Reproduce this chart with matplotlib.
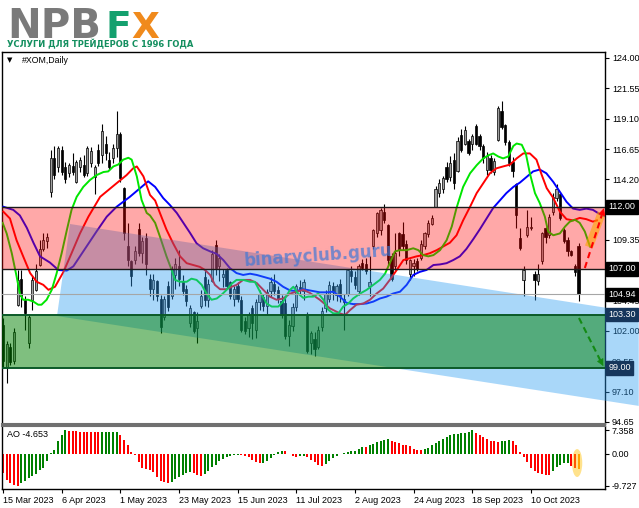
import matplotlib
matplotlib.use("Agg")
import matplotlib.pyplot as plt
from matplotlib.patches import Ellipse
from matplotlib.transforms import blended_transform_factory

plt.rcParams['font.family'] = ['Liberation Sans', 'DejaVu Sans']

# ---- data ----
date_labels = ['15 Mar 2023', '6 Apr 2023', '1 May 2023', '23 May 2023', '15 Jun 2023',
               '11 Jul 2023', '2 Aug 2023', '24 Aug 2023', '18 Sep 2023', '10 Oct 2023']
date_pos = [0, 16, 32, 48, 64, 80, 96, 112, 128, 144]

opens = [102.5, 99.1, 100.7, 99.6, 104.1, 106.2, 104.5, 101.0, 104.5, 105.3,
         107.3, 108.6, 109.2, 113.2, 115.9, 115.2, 116.6, 115.2, 114.7, 115.3,
         114.0, 115.2, 115.4, 114.7, 115.5, 114.4, 116.6, 116.2, 117.1, 115.8,
         115.9, 116.7, 117.9, 113.5, 108.8, 107.6, 107.7, 110.2, 108.3, 109.5,
         106.2, 105.4, 106.0, 104.6, 103.1, 105.6, 104.8, 106.5, 107.2, 106.0,
         105.4, 102.6, 103.5, 102.2, 104.0, 106.3, 104.5, 106.0, 108.9, 107.2,
         106.3, 106.9, 105.9, 104.6, 105.6, 104.5, 102.8, 102.2, 103.8, 102.1,
         104.3, 104.7, 104.0, 105.2, 105.8, 105.3, 104.4, 104.2, 101.6, 102.4,
         103.9, 105.5, 105.2, 103.3, 101.0, 101.3, 100.7, 102.3, 103.8, 104.6,
         105.6, 104.9, 105.8, 104.6, 105.0, 106.8, 106.3, 105.2, 107.5, 107.4,
         105.6, 108.8, 109.9, 110.1, 111.6, 110.5, 108.0, 107.2, 109.9, 109.8,
         109.0, 106.6, 107.2, 107.6, 107.9, 108.8, 109.8, 110.6, 112.0, 113.1,
         113.4, 115.2, 114.4, 115.8, 114.9, 117.8, 117.1, 117.3, 117.1, 118.5,
         117.7, 116.9, 115.0, 115.9, 114.8, 117.4, 119.7, 118.6, 117.2, 115.6,
         113.8, 109.5, 106.1, 109.7, 110.3, 106.6, 106.0, 107.6, 110.3, 109.7,
         111.6, 112.7, 113.0, 110.1, 109.3, 108.4, 107.2, 108.8]
highs = [103.0, 101.2, 101.0, 102.2, 106.9, 106.9, 104.8, 103.3, 106.4, 107.4,
         109.3, 109.9, 109.9, 116.6, 116.9, 116.9, 116.9, 115.6, 115.5, 116.3,
         115.8, 116.0, 116.2, 116.9, 116.8, 115.4, 117.1, 118.7, 117.7, 116.4,
         117.1, 119.7, 118.0, 113.6, 110.7, 107.7, 108.8, 110.7, 109.6, 109.9,
         106.6, 106.6, 106.1, 104.9, 104.8, 106.0, 107.2, 107.9, 108.5, 106.5,
         105.7, 104.1, 103.6, 103.5, 105.3, 106.9, 106.2, 108.5, 109.3, 108.2,
         107.0, 107.1, 106.0, 105.6, 105.9, 104.8, 103.1, 103.5, 104.1, 104.6,
         105.3, 105.0, 105.4, 106.3, 106.6, 105.6, 104.9, 104.8, 102.9, 104.2,
         105.8, 106.1, 106.2, 103.5, 102.0, 101.9, 102.4, 103.9, 105.3, 106.0,
         105.9, 105.8, 106.2, 105.0, 107.0, 107.2, 106.8, 107.4, 107.8, 107.9,
         108.0, 110.2, 111.6, 111.9, 112.2, 110.6, 108.3, 109.9, 110.0, 110.8,
         109.3, 107.8, 107.8, 107.9, 109.3, 110.0, 110.9, 111.3, 113.7, 114.2,
         114.5, 115.6, 116.1, 116.3, 117.6, 118.3, 118.5, 117.5, 117.9, 118.7,
         117.9, 117.1, 116.4, 116.2, 115.9, 120.1, 120.5, 118.7, 117.4, 116.0,
         113.9, 110.3, 107.2, 111.7, 111.2, 106.8, 107.4, 110.0, 110.4, 111.4,
         113.1, 113.8, 113.2, 110.3, 109.6, 108.5, 107.4, 109.1]
lows = [99.0, 97.8, 99.2, 99.3, 104.0, 103.9, 102.1, 100.6, 103.7, 105.2,
        107.2, 108.4, 108.7, 112.8, 114.2, 114.8, 114.6, 113.9, 114.4, 114.6,
        113.9, 114.8, 114.4, 114.5, 115.2, 113.0, 115.3, 115.5, 115.8, 115.0,
        115.5, 116.0, 114.0, 109.3, 107.2, 105.6, 107.4, 108.0, 107.5, 106.5,
        104.8, 104.5, 104.4, 101.8, 102.9, 103.6, 104.6, 105.4, 105.6, 104.9,
        104.0, 102.3, 101.8, 101.0, 103.8, 104.0, 103.9, 105.9, 106.5, 106.0,
        105.5, 105.4, 104.6, 104.0, 104.3, 101.9, 101.7, 101.5, 101.3, 101.4,
        103.7, 103.6, 103.3, 104.7, 104.9, 104.2, 103.0, 101.3, 100.8, 102.0,
        103.6, 104.9, 104.5, 100.2, 100.1, 100.0, 100.5, 102.0, 103.5, 104.3,
        104.5, 104.4, 104.3, 102.1, 104.8, 105.9, 105.4, 104.9, 106.9, 106.6,
        104.8, 108.6, 109.6, 109.7, 110.7, 107.2, 106.0, 106.9, 108.0, 108.5,
        107.4, 106.1, 106.4, 106.8, 107.7, 108.6, 109.6, 110.5, 112.0, 112.8,
        113.1, 114.0, 114.1, 113.4, 114.8, 116.4, 117.0, 116.2, 116.6, 117.0,
        116.6, 115.5, 114.6, 114.7, 114.6, 117.3, 118.3, 117.0, 115.3, 114.4,
        110.3, 108.5, 104.8, 109.6, 110.1, 104.5, 105.7, 107.4, 109.1, 109.5,
        111.3, 112.5, 110.9, 109.1, 108.0, 108.0, 106.4, 104.4]
closes = [99.6, 100.9, 99.5, 101.9, 106.1, 104.8, 103.4, 103.1, 106.1, 106.8,
          108.6, 109.3, 109.6, 115.9, 114.6, 116.7, 114.8, 114.2, 115.4, 114.8,
          115.6, 115.8, 114.6, 116.7, 116.5, 115.2, 115.5, 118.1, 116.3, 115.2,
          116.7, 117.9, 114.3, 109.9, 107.7, 106.4, 108.4, 108.3, 109.2, 107.4,
          105.4, 106.1, 104.8, 102.3, 104.6, 103.9, 107.0, 107.4, 106.2, 105.2,
          104.4, 103.8, 102.0, 102.8, 104.8, 104.5, 105.8, 108.2, 107.1, 107.9,
          106.6, 105.6, 104.8, 105.4, 104.6, 102.1, 102.0, 103.3, 102.6, 104.3,
          105.0, 104.0, 105.1, 105.9, 105.2, 104.6, 103.3, 101.6, 102.5, 103.9,
          105.6, 105.3, 105.9, 100.4, 101.8, 100.5, 102.1, 103.6, 105.0, 105.7,
          105.1, 105.6, 104.8, 104.3, 106.9, 106.4, 105.7, 107.2, 107.1, 106.8,
          105.9, 110.1, 111.5, 111.7, 110.9, 107.7, 106.2, 108.3, 108.5, 108.8,
          107.7, 107.7, 107.5, 107.0, 109.0, 109.9, 110.7, 111.1, 113.4, 113.9,
          114.3, 114.2, 115.5, 113.9, 117.3, 116.6, 118.2, 116.3, 117.7, 117.1,
          116.9, 115.9, 116.1, 115.0, 115.7, 120.0, 118.4, 117.2, 115.5, 114.9,
          111.3, 108.7, 106.9, 110.4, 110.4, 106.1, 106.6, 109.9, 109.6, 111.2,
          112.8, 113.4, 111.1, 109.2, 108.4, 108.1, 106.7, 104.94]

ao_values = [-5.9, -7.9, -9.0, -9.5, -9.727, -8.9, -8.2, -7.5, -6.8, -6.2,
             -5.1, -4.4, -2.2, 0.3, 1.2, 4.1, 5.7, 7.25, 7.2, 7.1,
             7.0, 6.9, 6.85, 6.75, 6.7, 6.65, 6.6, 6.65, 6.7, 6.75,
             6.8, 6.85, 5.9, 4.3, 2.7, 0.6, -0.4, -2.6, -4.3, -4.6,
             -4.9, -5.6, -7.2, -8.2, -8.7, -8.9, -8.5, -7.7, -7.0, -6.4,
             -6.0, -5.7, -6.0, -6.4, -6.8, -6.2, -5.2, -4.1, -3.3, -2.3,
             -1.5, -0.8, -0.5, -0.3, -0.2, -0.4, -0.6, -1.0, -1.8, -2.4,
             -2.9, -2.7, -2.1, -1.2, -0.2, 0.5, 1.0, 0.8, -0.1, -0.6,
             -0.8, -0.7, -0.6, -0.9, -1.8, -2.5, -3.3, -3.7, -3.1, -2.1,
             -1.3, -0.6, 0.05, 0.3, 0.6, 0.8, 1.0, 1.5, 2.1, 2.0,
             2.6, 3.1, 3.6, 3.9, 4.4, 4.6, 4.1, 3.6, 3.3, 2.9,
             2.6, 2.3, 1.5, 1.2, 1.1, 1.4, 1.9, 2.6, 3.4, 4.1,
             4.6, 5.2, 5.7, 6.0, 6.2, 6.3, 6.5, 6.7, 7.358, 6.5,
             5.9, 5.2, 4.6, 4.1, 3.9, 3.8, 4.0, 4.1, 4.15, 4.0,
             2.6, 0.5, -1.0, -2.6, -4.3, -5.2, -6.0, -6.3, -6.5, -6.6,
             -5.2, -4.1, -3.3, -2.9, -2.8, -3.6, -4.2, -4.653]

# Alligator lines (bar index, price)
jaw_x = [0.1, 2.8, 4.6, 6.5, 8.3, 10.1, 12.8, 15.1, 17.4, 19.2, 21.0, 22.8, 25.5, 28.3, 31.0,
         34.6, 37.4, 39.6, 41.5, 43.7, 45.5, 47.4, 49.2, 51.0, 52.8, 54.6, 56.5, 58.3, 60.1,
         61.9, 63.7, 65.5, 67.4, 69.2, 71.0, 72.8, 74.6, 76.4, 78.3, 80.1, 81.9, 84.6, 86.4,
         88.3, 90.1, 91.9, 93.7, 95.5, 97.4, 99.2, 101.0, 102.8, 104.6, 106.4, 108.3, 110.1,
         111.9, 113.7, 115.5, 117.4, 119.2, 121.0, 122.8, 124.6, 126.4, 128.3, 130.1, 132.0,
         133.7, 135.5, 137.3, 139.2, 141.0, 142.8, 144.6, 146.4, 148.2, 150.1, 151.9, 153.7,
         155.5, 157.3, 159.1, 160.9, 162.8, 164.5]
jaw_y = [112.0, 111.75, 111.3, 110.3, 109.1, 108.0, 107.5, 106.9, 106.85, 107.2, 108.0, 108.8,
         110.0, 111.2, 112.0, 112.8, 113.5, 114.05, 113.6, 112.7, 112.15, 111.5, 110.7, 109.9,
         109.05, 108.65, 108.4, 108.2, 107.7, 107.05, 106.65, 106.5, 106.6, 106.5, 106.35,
         106.2, 105.95, 105.55, 105.25, 105.2, 105.35, 105.2, 105.1, 105.1, 105.15, 104.75,
         104.25, 104.15, 104.15, 104.2, 104.35, 104.6, 104.75, 105.0, 105.15, 105.7, 106.5,
         106.75, 106.9, 107.3, 107.35, 107.45, 107.7, 108.0, 108.6, 109.4, 110.2, 111.1,
         111.9, 112.5, 113.1, 113.6, 113.95, 114.4, 114.85, 115.0, 114.7, 114.0, 113.2,
         112.4, 111.85, 111.75, 111.85, 111.75, 111.4, 111.2]
teeth_x = [0.1, 1.9, 3.7, 5.5, 7.4, 9.2, 11.0, 12.4, 14.2, 16.5, 18.7, 21.0, 23.3, 26.5, 31.0,
           33.7, 35.5, 36.5, 38.3, 40.1, 41.5, 42.8, 44.6, 46.4, 48.3, 50.1, 51.9, 53.7, 55.1,
           56.5, 57.8, 59.2, 61.0, 62.4, 63.7, 65.5, 67.4, 69.2, 71.0, 72.8, 74.6, 76.4, 78.3,
           80.1, 81.9, 83.7, 86.4, 89.2, 91.9, 93.3, 94.6, 96.4, 98.3, 100.1, 101.9, 103.7,
           105.5, 107.4, 109.2, 111.0, 112.8, 114.6, 116.4, 118.3, 120.1, 121.9, 123.7, 125.5,
           127.4, 129.2, 131.0, 132.8, 134.6, 136.4, 138.3, 140.1, 141.9, 143.7, 145.5, 146.9,
           148.3, 150.1, 151.9, 153.7, 155.5, 157.3, 159.1, 160.9, 162.0]
teeth_y = [111.6, 111.05, 109.3, 108.0, 106.65, 105.95, 105.7, 105.3, 105.55, 106.75, 108.25,
           109.85, 111.2, 112.8, 113.9, 114.55, 115.1, 115.25, 114.45, 112.95, 112.5, 111.5,
           110.15, 109.05, 108.0, 107.45, 107.3, 107.15, 106.9, 106.5, 105.7, 105.35, 105.35,
           105.55, 105.7, 106.1, 106.1, 105.85, 105.3, 104.75, 104.5, 104.6, 105.0, 105.15,
           105.3, 105.05, 104.5, 103.8, 103.4, 103.27, 103.65, 104.1, 104.2, 104.5, 105.0,
           105.4, 106.1, 106.9, 107.7, 107.85, 108.0, 108.1, 108.25, 108.5, 108.8, 109.1,
           109.7, 110.9, 112.0, 113.1, 113.9, 114.7, 115.1, 115.25, 115.4, 115.9, 116.3,
           116.3, 115.8, 114.6, 113.5, 112.7, 111.6, 111.0, 110.9, 111.1, 111.0, 110.8, 110.9]
lips_x = [-0.1, 1.0, 2.4, 3.7, 4.6, 5.5, 6.9, 8.3, 9.6, 10.5, 11.9, 13.3, 14.6, 16.0, 17.4,
          18.7, 20.1, 21.9, 23.7, 25.5, 27.4, 28.7, 30.1, 31.4, 32.8, 34.2, 35.1, 36.5, 37.8,
          39.2, 40.1, 41.5, 42.8, 44.6, 46.0, 46.9, 48.3, 50.1, 51.4, 52.8, 54.2, 55.5, 56.9,
          58.3, 59.6, 61.0, 62.4, 63.7, 65.5, 67.4, 68.7, 70.1, 71.9, 73.3, 75.1, 76.4, 78.3,
          79.2, 80.5, 81.9, 83.3, 84.6, 86.0, 87.4, 88.7, 90.1, 91.5, 92.8, 94.2, 95.5, 97.4,
          99.2, 101.0, 102.8, 104.2, 105.5, 106.9, 108.3, 110.1, 111.9, 113.3, 114.6, 116.0,
          117.4, 119.2, 121.0, 122.4, 123.7, 125.5, 127.4, 129.2, 131.0, 132.4, 133.7, 135.1,
          136.4, 137.8, 139.2, 140.1, 141.5, 142.6, 143.7, 145.1, 146.4, 147.8, 148.7, 150.1,
          151.9, 153.3, 154.6, 156.0, 157.3, 158.7, 160.1]
lips_y = [110.7, 109.85, 108.25, 106.4, 105.0, 104.5, 104.5, 104.35, 104.1, 104.1, 104.5,
          105.3, 106.6, 108.25, 110.1, 111.75, 112.8, 113.6, 114.15, 114.55, 114.8, 114.85,
          115.25, 115.4, 115.8, 115.95, 115.8, 114.45, 112.55, 111.5, 111.3, 110.7, 109.6,
          108.0, 106.9, 106.1, 105.95, 105.95, 106.2, 106.1, 105.7, 105.0, 104.5, 104.6,
          104.9, 105.3, 105.8, 106.1, 106.1, 105.95, 105.95, 105.15, 104.2, 103.95, 103.95,
          104.35, 105.3, 105.55, 105.0, 104.65, 104.75, 104.75, 105.0, 104.5, 103.7, 103.4,
          103.4, 103.95, 104.2, 104.6, 105.0, 105.3, 105.7, 106.1, 106.6, 107.45, 108.4,
          108.5, 108.5, 108.65, 108.5, 108.1, 108.0, 108.1, 108.5, 109.3, 110.4, 111.9,
          113.6, 114.7, 115.35, 115.9, 116.15, 116.3, 116.05, 115.9, 116.05, 116.9, 117.1,
          117.0, 116.3, 114.7, 113.1, 112.3, 111.2, 110.0, 109.7, 109.85, 110.4, 110.8,
          110.95, 110.7, 110.0, 108.8]

resistance = (107.0, 112.0)
support = (99.0, 103.3)
last_price = 104.94
price_ticks = [124.00, 121.55, 119.10, 116.65, 114.20, 111.75, 109.35, 104.45, 102.00, 99.55, 97.10, 94.65]
price_boxes = [(112.00, '#000000'), (107.00, '#000000'), (104.94, '#000000'),
               (103.30, '#16365c'), (99.00, '#16365c')]
ao_ticks = [7.358, 0.0, -9.727]

# ---- figure ----
fig = plt.figure(figsize=(6.39, 5.08), dpi=100)
ax = fig.add_axes([2 / 639, 84 / 508, 603 / 639, 372 / 508])
ax2 = fig.add_axes([2 / 639, 19 / 508, 603 / 639, 63 / 508], sharex=ax)

n = len(closes)
xs = list(range(n))
ax.vlines(xs, lows, highs, color='black', lw=0.8, zorder=2)
bottoms = [min(o, c) for o, c in zip(opens, closes)]
heights = [max(abs(c - o), 0.06) for o, c in zip(opens, closes)]
body_col = ['#a0a0a0' if c >= o else 'black' for o, c in zip(opens, closes)]
ax.bar(xs, heights, bottom=bottoms, width=0.62, color=body_col, edgecolor='black', lw=0.5, zorder=2.1)

ax.plot(jaw_x, jaw_y, color='#0000ff', lw=1.4, zorder=3)
ax.plot(teeth_x, teeth_y, color='#ff0000', lw=1.4, zorder=3)
ax.plot(lips_x, lips_y, color='#00e600', lw=1.4, zorder=3)

# falling channel (light blue), runs past the price scale
chan_x = [18.27, 173.4, 173.4, 14.73]
chan_y = [110.61, 103.44, 95.94, 103.19]
ax.fill(chan_x, chan_y, color=(42 / 255, 155 / 255, 242 / 255), alpha=0.4, lw=0, zorder=4, clip_on=False)

ax.axhspan(resistance[0], resistance[1], color='#ff0000', alpha=0.34, lw=0, zorder=5)
ax.axhspan(support[0], support[1], color='#008000', alpha=0.5, lw=0, zorder=5)
for lv in resistance:
    ax.axhline(lv, color='#1a1a1a', lw=1.0, zorder=6)
for lv in support:
    ax.axhline(lv, color='#0b5a28', lw=1.4, zorder=6)
ax.axhline(last_price, color='#a6a6a6', lw=0.8, zorder=6)

# forecast arrows
ax.plot([159.8, 163.3], [108.76, 111.5], color='#ffa500', lw=6, alpha=0.6, solid_capstyle='butt', zorder=6.5)
ax.plot([158.7, 163.3], [107.06, 111.3], color='red', lw=1.5, ls=(0, (3, 2)), zorder=7)
ax.annotate('', xy=(164.1, 112.1), xytext=(163.0, 111.0),
            arrowprops=dict(arrowstyle='-|>', color='red', lw=0.5, mutation_scale=11),
            annotation_clip=False, zorder=7)
ax.plot([157.1, 163.2], [103.03, 99.45], color='#138a13', lw=1.5, ls=(0, (3, 2)), zorder=7)
ax.annotate('', xy=(164.1, 98.95), xytext=(162.8, 99.7),
            arrowprops=dict(arrowstyle='-|>', color='#138a13', lw=0.5, mutation_scale=11),
            annotation_clip=False, zorder=7)

ax.text(86.0, 108.05, 'binaryclub.guru', rotation=4, rotation_mode='anchor', fontsize=12,
        fontweight='bold', family='DejaVu Sans', color='#3f78d6', alpha=0.7,
        ha='center', va='center', zorder=8)

ax.set_xlim(-0.27, 164.2)
ax.set_ylim(94.48, 124.48)
ax.yaxis.tick_right()
ax.set_yticks(price_ticks)
ax.set_yticklabels(['%.2f' % t for t in price_ticks])
ax.tick_params(axis='y', labelsize=6.5, length=3, pad=2, width=0.8)
ax.tick_params(axis='x', bottom=False, labelbottom=False)

tr = blended_transform_factory(ax.transAxes, ax.transData)
for price, bg in price_boxes:
    ax.text(1.006, price, '%.2f' % price, transform=tr, ha='left', va='center', fontsize=6.5,
            color='white', bbox=dict(boxstyle='square,pad=0.25', fc=bg, ec=bg),
            zorder=10, clip_on=False)

for sp in ['top', 'left', 'right']:
    ax.spines[sp].set_color('black')
    ax.spines[sp].set_linewidth(1)
ax.spines['bottom'].set_color('#707070')
ax.spines['bottom'].set_linewidth(1.5)

ax.text(0.009, 0.985, '\u25bc', transform=ax.transAxes, fontsize=5, family='DejaVu Sans', va='top')
ax.text(0.033, 0.99, '#XOM,Daily', transform=ax.transAxes, fontsize=6.3, va='top')

# ---- AO panel ----
ao_col = []
for i, v in enumerate(ao_values):
    if i > 0 and v > ao_values[i - 1]:
        ao_col.append('#008000')
    else:
        ao_col.append('#ff0000')
ao_col[-1] = '#ff8c00'
ax2.bar(xs, ao_values, width=0.55, color=ao_col, lw=0, zorder=2)
ax2.add_patch(Ellipse((156.6, -2.8), 2.8, 8.6, fc='#ffc000', alpha=0.45, ec='none', zorder=3))
ax2.set_ylim(-10.8, 8.6)
ax2.yaxis.tick_right()
ax2.set_yticks(ao_ticks)
ax2.set_yticklabels(['7.358', '0.00', '-9.727'])
ax2.tick_params(axis='y', labelsize=6.5, length=3, pad=2, width=0.8)
ax2.set_xticks(date_pos)
ax2.set_xticklabels(date_labels, ha='left')
ax2.tick_params(axis='x', labelsize=6.5, length=3, pad=2, width=0.8)
for sp in ['bottom', 'left', 'right']:
    ax2.spines[sp].set_color('black')
    ax2.spines[sp].set_linewidth(1)
ax2.spines['top'].set_color('#707070')
ax2.spines['top'].set_linewidth(1.5)
ax2.text(0.008, 0.86, 'AO -4.653', transform=ax2.transAxes, fontsize=6.5, va='center')

# ---- logo ----
fig.text(7 / 639, 1 - 38 / 508, 'NPB', fontsize=29, fontweight='heavy', family='DejaVu Sans',
         color='#7a7a7a', va='baseline')
fig.text(105 / 639, 1 - 38 / 508, 'F', fontsize=27, fontweight='heavy', family='DejaVu Sans',
         color='#14a06e', va='baseline')
fig.text(131 / 639, 1 - 38 / 508, 'X', fontsize=26, fontweight='heavy', family='DejaVu Sans',
         color='#f08a1c', va='baseline')
fig.text(7 / 639, 1 - 47.5 / 508, 'УСЛУГИ ДЛЯ ТРЕЙДЕРОВ С 1996 ГОДА', fontsize=6,
         fontweight='bold', family=['Liberation Sans Narrow', 'DejaVu Sans'],
         color='#138f5f', va='baseline')

fig.savefig('out.png', dpi=100)
